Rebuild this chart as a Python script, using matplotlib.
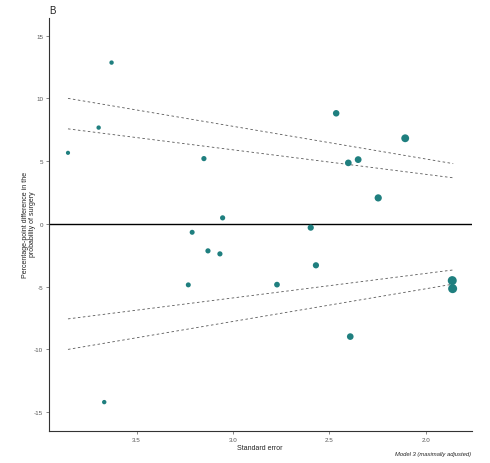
import matplotlib
matplotlib.use("Agg")
import matplotlib.pyplot as plt

plt.rcParams["font.family"] = ["Liberation Sans", "DejaVu Sans"]

# Data
se = [3.856, 3.697, 3.630, 3.151, 3.054, 2.465, 2.107, 2.402, 2.351, 2.247, 2.597,
      3.212, 3.130, 3.068, 3.232, 3.668, 2.772, 2.570, 2.392, 1.863, 1.861]
diff = [5.66, 7.67, 12.85, 5.20, 0.48, 8.81, 6.82, 4.86, 5.12, 2.07, -0.30,
        -0.67, -2.15, -2.39, -4.86, -14.2, -4.84, -3.30, -8.98, -4.52, -5.16]
sizes = [9, 10, 10, 14, 14, 22, 32, 23, 24, 27, 20,
         13, 14, 14, 13, 10, 17, 20, 23, 42, 42]

line_se = [3.856, 1.858]
upper99 = [10.0, 4.80]
upper95 = [7.57, 3.67]
lower95 = [-7.57, -3.67]
lower99 = [-10.0, -4.80]

xticks = [3.5, 3.0, 2.5, 2.0]
yticks = [-15, -10, -5, 0, 5, 10, 15]

fig = plt.figure(figsize=(4.9, 4.64), dpi=100)
ax = fig.add_axes([0.0994, 0.069, 0.8633, 0.890])

for yy in (upper99, upper95, lower95, lower99):
    ax.plot(line_se, yy, color="#222222", lw=0.6, ls=(0, (3, 3)), alpha=0.75)

ax.axhline(0, color="black", lw=1.0)
ax.scatter(se, diff, s=sizes, color="#1f7f7f", edgecolor="none", zorder=3)

ax.set_xlim(3.956, 1.762)
ax.set_ylim(-16.5, 16.4)
ax.set_xticks(xticks)
ax.set_xticklabels([f"{v:.1f}" for v in xticks])
ax.set_yticks(yticks)
ax.set_yticklabels([str(v) for v in yticks])
ax.tick_params(labelsize=4.5, colors="#555555", length=2, width=0.5, pad=2)

for s in ("top", "right"):
    ax.spines[s].set_visible(False)
for s in ("left", "bottom"):
    ax.spines[s].set_color("#333333")
    ax.spines[s].set_linewidth(0.8)

ax.set_xlabel("Standard error", fontsize=5, color="#222222", labelpad=2)
fig.text(0.059, 0.516, "Percentage-point difference in the\nprobability of surgery",
         fontsize=5, color="#222222", rotation=90, ha="center", va="center",
         linespacing=1.1, multialignment="center")

fig.text(0.100, 0.977, "B", fontsize=7, color="#222222", ha="left", va="center")
fig.text(0.962, 0.021, "Model 3 (maximally adjusted)", fontsize=4.2, style="italic",
         color="#222222", ha="right", va="center")

fig.savefig("out.png", dpi=100)
